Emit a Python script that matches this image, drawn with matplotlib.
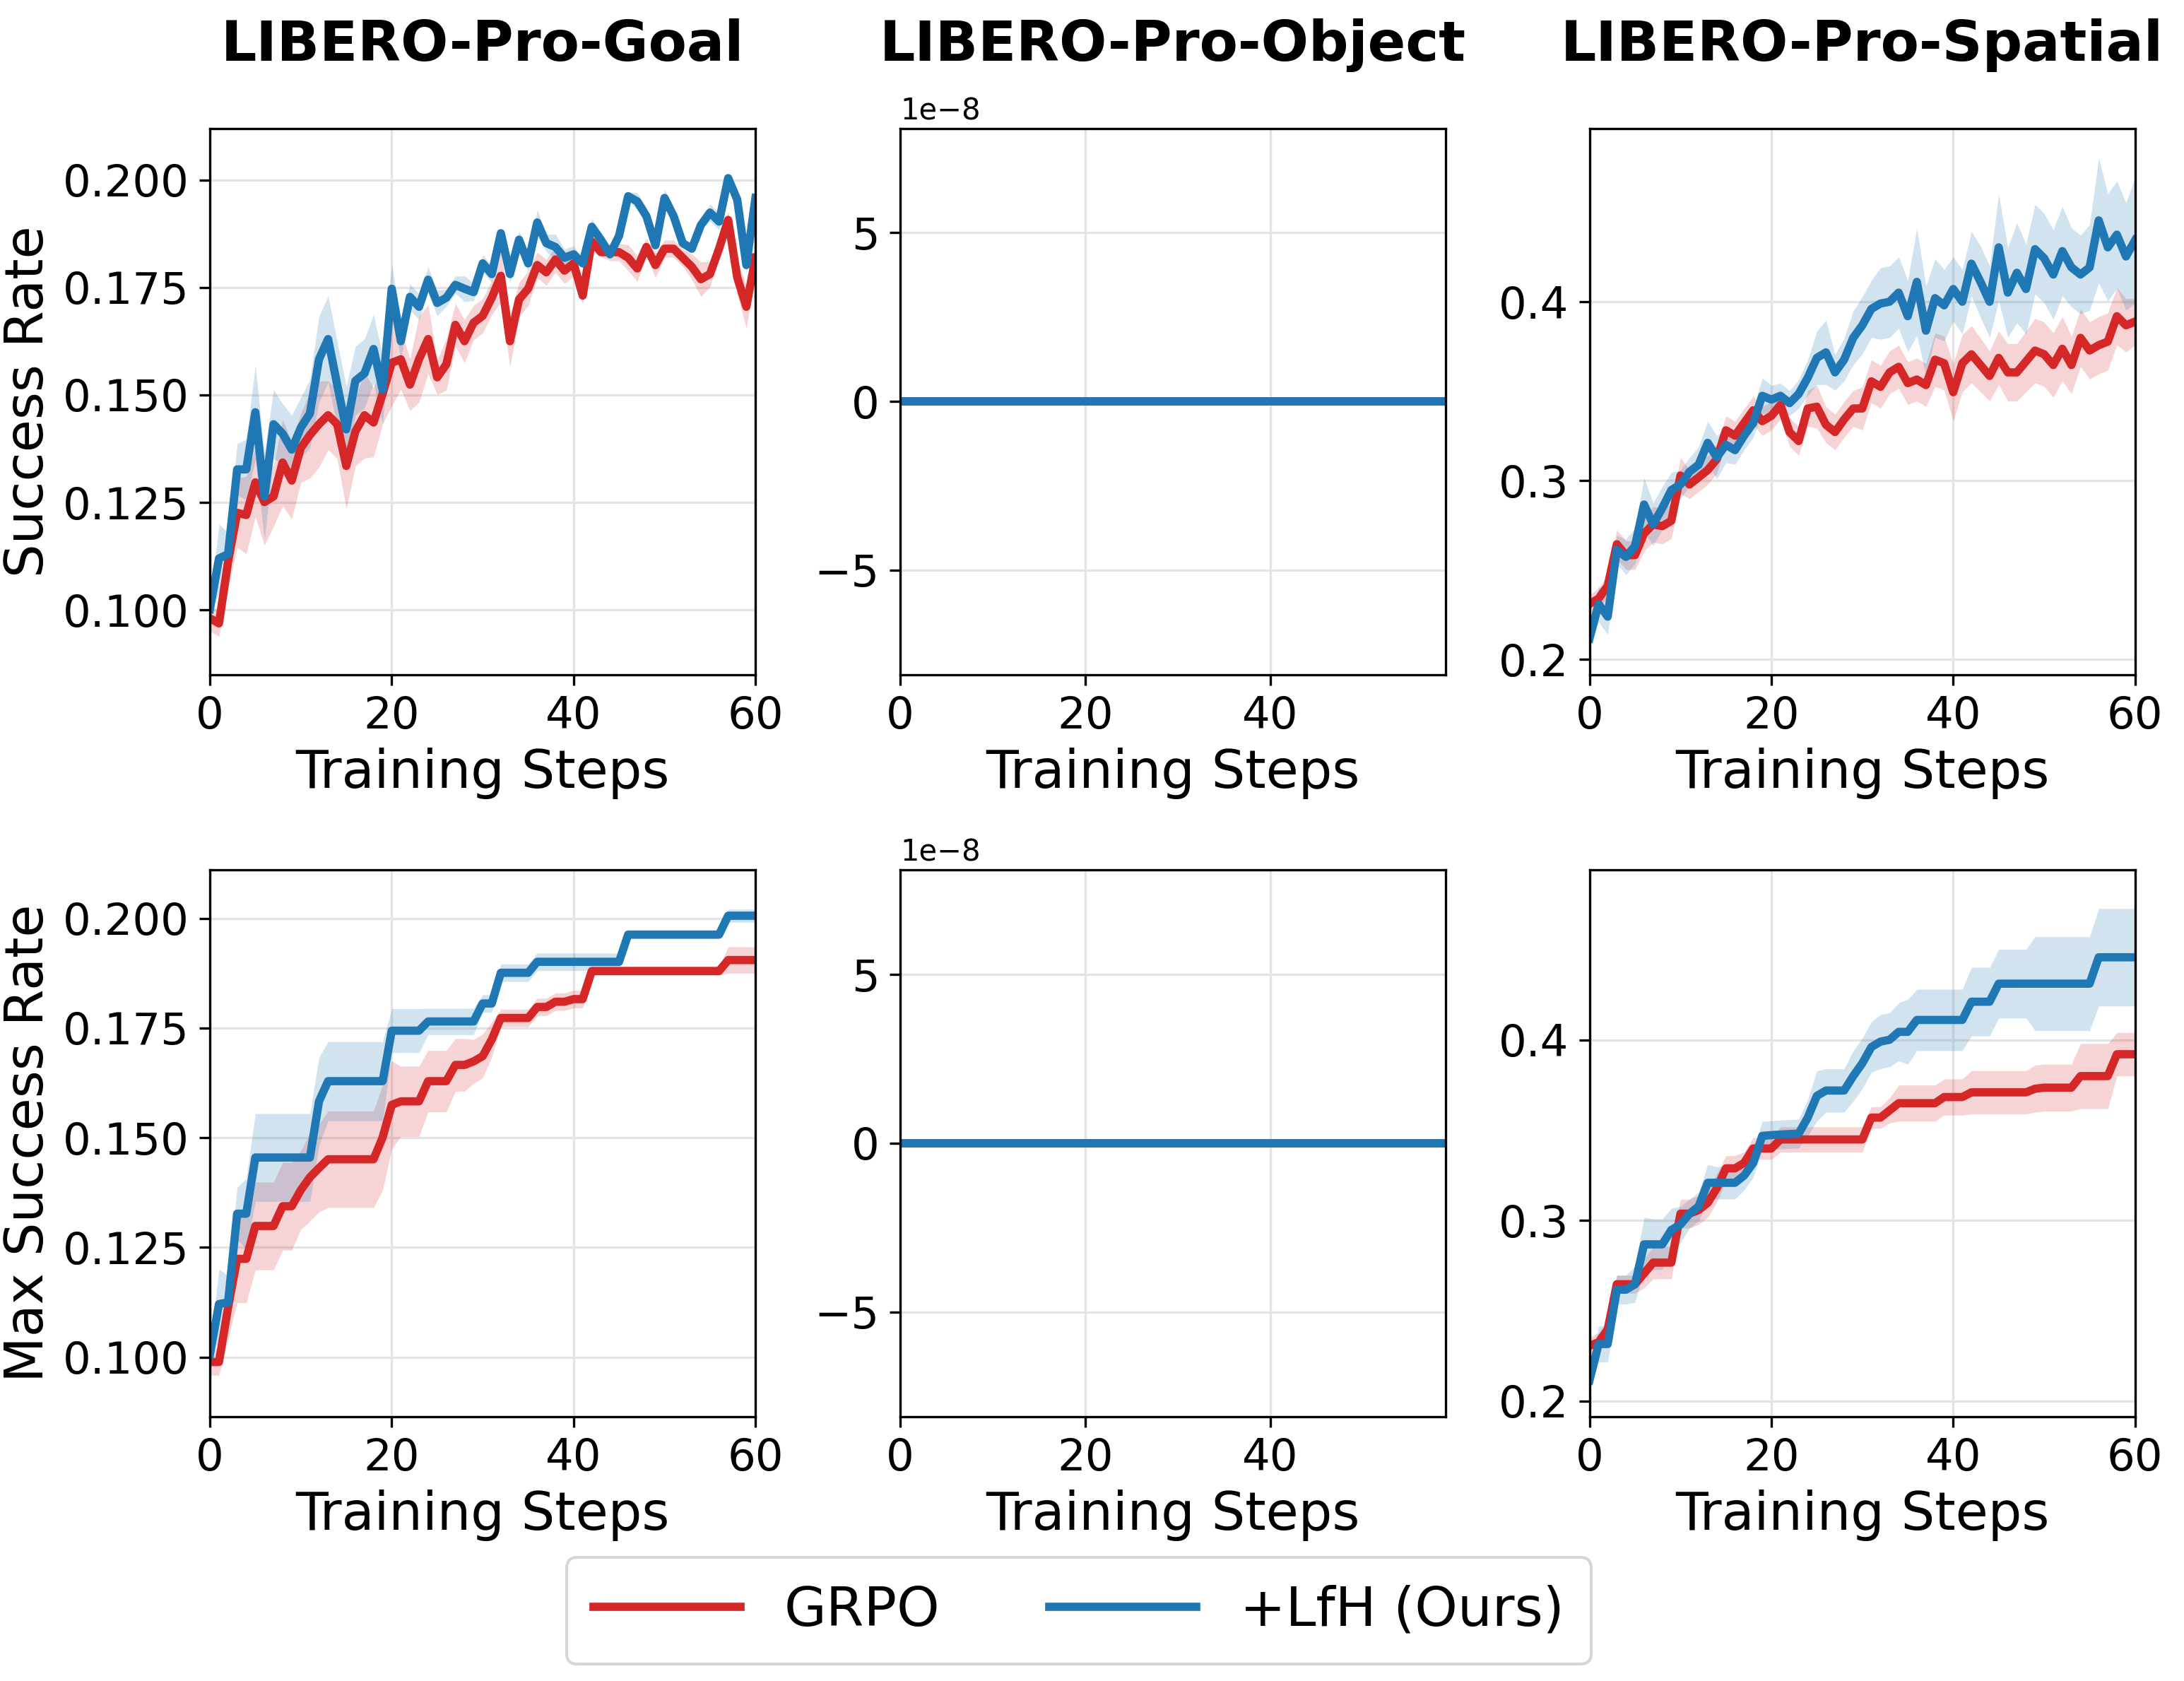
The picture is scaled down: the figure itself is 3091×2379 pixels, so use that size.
import numpy as np
import matplotlib
matplotlib.use("Agg")
import matplotlib.pyplot as plt
from matplotlib.lines import Line2D

# training steps
steps = np.arange(61)
obj_steps = np.arange(60)

# ---- LIBERO-Pro-Goal, success rate ----
goal_grpo = [0.0981, 0.0969, 0.1112, 0.1226, 0.1221, 0.1297, 0.1251, 0.1264, 0.1343, 0.1301,
             0.1377, 0.1407, 0.1432, 0.1453, 0.1432, 0.1335, 0.1415, 0.1453, 0.1436, 0.1503,
             0.1575, 0.1583, 0.1524, 0.1583, 0.1630, 0.1541, 0.1571, 0.1663, 0.1625, 0.1668,
             0.1684, 0.1726, 0.1777, 0.1625, 0.1722, 0.1747, 0.1802, 0.1785, 0.1815, 0.1789,
             0.1806, 0.1731, 0.1857, 0.1832, 0.1832, 0.1832, 0.1819, 0.1794, 0.1844, 0.1802,
             0.1840, 0.1840, 0.1819, 0.1798, 0.1769, 0.1781, 0.1840, 0.1907, 0.1773, 0.1705,
             0.1819]
goal_grpo_sd = [0.003, 0.003, 0.006, 0.008, 0.009, 0.008, 0.010, 0.007, 0.010, 0.009,
                0.008, 0.010, 0.010, 0.008, 0.008, 0.010, 0.008, 0.010, 0.008, 0.007,
                0.010, 0.007, 0.006, 0.010, 0.008, 0.004, 0.006, 0.005, 0.005, 0.004,
                0.004, 0.004, 0.006, 0.006, 0.004, 0.004, 0.003, 0.003, 0.003, 0.003,
                0.003, 0.002, 0.001, 0.001, 0.002, 0.002, 0.003, 0.003, 0.002, 0.003,
                0.002, 0.002, 0.002, 0.003, 0.004, 0.003, 0.002, 0.002, 0.004, 0.005,
                0.003]
goal_ours = [0.1002, 0.1120, 0.1130, 0.1327, 0.1327, 0.1460, 0.1264, 0.1432, 0.1410, 0.1373,
             0.1424, 0.1457, 0.1583, 0.1630, 0.1524, 0.1420, 0.1533, 0.1550, 0.1607, 0.1512,
             0.1747, 0.1625, 0.1728, 0.1705, 0.1768, 0.1714, 0.1726, 0.1756, 0.1747, 0.1739,
             0.1806, 0.1781, 0.1876, 0.1781, 0.1861, 0.1806, 0.1901, 0.1853, 0.1844, 0.1819,
             0.1827, 0.1806, 0.1891, 0.1861, 0.1827, 0.1870, 0.1962, 0.1950, 0.1916, 0.1848,
             0.1958, 0.1916, 0.1853, 0.1840, 0.1895, 0.1924, 0.1903, 0.2004, 0.1954, 0.1802,
             0.1958]
goal_ours_sd = [0.001, 0.008, 0.005, 0.006, 0.007, 0.011, 0.010, 0.008, 0.007, 0.008,
                0.007, 0.008, 0.010, 0.010, 0.010, 0.010, 0.008, 0.008, 0.008, 0.008,
                0.006, 0.004, 0.003, 0.003, 0.003, 0.003, 0.002, 0.002, 0.003, 0.002,
                0.002, 0.002, 0.001, 0.002, 0.002, 0.002, 0.003, 0.002, 0.003, 0.002,
                0.002, 0.001, 0.002, 0.001, 0.001, 0.001, 0.001, 0.002, 0.002, 0.001,
                0.002, 0.002, 0.001, 0.001, 0.001, 0.002, 0.002, 0.001, 0.001, 0.002,
                0.001]

# ---- LIBERO-Pro-Goal, max success rate ----
goal_max_grpo = [0.0989, 0.0989, 0.1113, 0.1224, 0.1224, 0.1299, 0.1299, 0.1299, 0.1344, 0.1344,
                 0.1381, 0.1410, 0.1431, 0.1451, 0.1451, 0.1451, 0.1451, 0.1451, 0.1451, 0.1501,
                 0.1575, 0.1583, 0.1583, 0.1583, 0.1629, 0.1629, 0.1629, 0.1666, 0.1666, 0.1674,
                 0.1686, 0.1724, 0.1773, 0.1773, 0.1773, 0.1773, 0.1798, 0.1798, 0.1810, 0.1810,
                 0.1816, 0.1816, 0.1880, 0.1880, 0.1880, 0.1880, 0.1880, 0.1880, 0.1880, 0.1880,
                 0.1880, 0.1880, 0.1880, 0.1880, 0.1880, 0.1880, 0.1880, 0.1905, 0.1905, 0.1905,
                 0.1905]
goal_max_grpo_sd = [0.003, 0.003, 0.007, 0.010, 0.010, 0.010, 0.010, 0.010, 0.010, 0.010,
                    0.009, 0.010, 0.010, 0.011, 0.011, 0.011, 0.011, 0.011, 0.011, 0.012,
                    0.010, 0.008, 0.008, 0.008, 0.007, 0.007, 0.007, 0.006, 0.006, 0.005,
                    0.005, 0.004, 0.002, 0.002, 0.002, 0.002, 0.002, 0.002, 0.002, 0.002,
                    0.002, 0.002, 0.001, 0.001, 0.001, 0.001, 0.001, 0.001, 0.001, 0.001,
                    0.001, 0.001, 0.001, 0.001, 0.001, 0.001, 0.001, 0.003, 0.003, 0.003,
                    0.003]
goal_max_ours = [0.1006, 0.1121, 0.1125, 0.1327, 0.1327, 0.1455, 0.1455, 0.1455, 0.1455, 0.1455,
                 0.1455, 0.1455, 0.1583, 0.1629, 0.1629, 0.1629, 0.1629, 0.1629, 0.1629, 0.1629,
                 0.1744, 0.1744, 0.1744, 0.1744, 0.1765, 0.1765, 0.1765, 0.1765, 0.1765, 0.1765,
                 0.1806, 0.1806, 0.1876, 0.1876, 0.1876, 0.1876, 0.1901, 0.1901, 0.1901, 0.1901,
                 0.1901, 0.1901, 0.1901, 0.1901, 0.1901, 0.1901, 0.1963, 0.1963, 0.1963, 0.1963,
                 0.1963, 0.1963, 0.1963, 0.1963, 0.1963, 0.1963, 0.1963, 0.2006, 0.2006, 0.2006,
                 0.2006]
goal_max_ours_sd = [0.001, 0.008, 0.006, 0.006, 0.008, 0.010, 0.010, 0.010, 0.010, 0.010,
                    0.010, 0.010, 0.010, 0.009, 0.009, 0.009, 0.009, 0.009, 0.009, 0.009,
                    0.005, 0.005, 0.005, 0.005, 0.003, 0.003, 0.003, 0.003, 0.003, 0.003,
                    0.002, 0.002, 0.002, 0.002, 0.002, 0.002, 0.002, 0.002, 0.002, 0.002,
                    0.002, 0.002, 0.002, 0.002, 0.002, 0.002, 0.001, 0.001, 0.001, 0.001,
                    0.001, 0.001, 0.001, 0.001, 0.001, 0.001, 0.001, 0.0015, 0.0015, 0.0015,
                    0.0015]

# ---- LIBERO-Pro-Object: every run stays at 0 ----
obj_grpo = np.zeros(60)
obj_ours = np.zeros(60)

# ---- LIBERO-Pro-Spatial, success rate ----
spat_grpo = [0.2310, 0.2340, 0.2411, 0.2644, 0.2583, 0.2583, 0.2704, 0.2755, 0.2745, 0.2775,
             0.3028, 0.2978, 0.3018, 0.3059, 0.3120, 0.3281, 0.3251, 0.3322, 0.3393, 0.3332,
             0.3362, 0.3423, 0.3271, 0.3221, 0.3403, 0.3413, 0.3312, 0.3271, 0.3342, 0.3403,
             0.3403, 0.3555, 0.3524, 0.3605, 0.3636, 0.3545, 0.3565, 0.3534, 0.3676, 0.3656,
             0.3494, 0.3656, 0.3706, 0.3646, 0.3585, 0.3686, 0.3605, 0.3605, 0.3666, 0.3727,
             0.3706, 0.3646, 0.3737, 0.3646, 0.3798, 0.3727, 0.3757, 0.3777, 0.3919, 0.3868,
             0.3889]
spat_grpo_sd = [0.005, 0.006, 0.006, 0.008, 0.008, 0.008, 0.010, 0.010, 0.010, 0.010,
                0.010, 0.008, 0.008, 0.008, 0.008, 0.008, 0.008, 0.008, 0.008, 0.008,
                0.008, 0.008, 0.008, 0.008, 0.010, 0.012, 0.010, 0.010, 0.010, 0.010,
                0.012, 0.012, 0.012, 0.012, 0.012, 0.012, 0.012, 0.012, 0.015, 0.015,
                0.016, 0.016, 0.016, 0.015, 0.014, 0.015, 0.016, 0.016, 0.017, 0.018,
                0.018, 0.018, 0.018, 0.016, 0.016, 0.016, 0.016, 0.016, 0.016, 0.015,
                0.013]
spat_ours = [0.2117, 0.2310, 0.2239, 0.2613, 0.2573, 0.2634, 0.2866, 0.2755, 0.2846, 0.2947,
             0.2978, 0.3049, 0.3089, 0.3211, 0.3130, 0.3200, 0.3170, 0.3251, 0.3322, 0.3474,
             0.3453, 0.3474, 0.3433, 0.3484, 0.3575, 0.3686, 0.3717, 0.3605, 0.3676, 0.3798,
             0.3868, 0.3960, 0.3990, 0.4000, 0.4051, 0.3919, 0.4111, 0.3838, 0.4020, 0.3980,
             0.4071, 0.4000, 0.4213, 0.4111, 0.4000, 0.4304, 0.4051, 0.4162, 0.4071, 0.4294,
             0.4243, 0.4152, 0.4283, 0.4192, 0.4152, 0.4192, 0.4455, 0.4304, 0.4375, 0.4253,
             0.4344]
spat_ours_sd = [0.005, 0.010, 0.010, 0.008, 0.010, 0.010, 0.015, 0.012, 0.012, 0.010,
                0.008, 0.008, 0.010, 0.012, 0.012, 0.010, 0.008, 0.008, 0.008, 0.010,
                0.008, 0.007, 0.007, 0.008, 0.010, 0.015, 0.018, 0.010, 0.012, 0.015,
                0.016, 0.016, 0.020, 0.020, 0.020, 0.020, 0.030, 0.025, 0.022, 0.020,
                0.018, 0.018, 0.018, 0.020, 0.020, 0.030, 0.025, 0.028, 0.025, 0.025,
                0.025, 0.025, 0.025, 0.022, 0.022, 0.024, 0.035, 0.030, 0.030, 0.030,
                0.035]

# ---- LIBERO-Pro-Spatial, max success rate ----
spat_max_grpo = [0.2305, 0.2325, 0.2395, 0.2646, 0.2646, 0.2646, 0.2706, 0.2766, 0.2766, 0.2766,
                 0.3037, 0.3037, 0.3057, 0.3097, 0.3178, 0.3288, 0.3288, 0.3318, 0.3398, 0.3398,
                 0.3398, 0.3448, 0.3448, 0.3448, 0.3448, 0.3448, 0.3448, 0.3448, 0.3448, 0.3448,
                 0.3448, 0.3569, 0.3569, 0.3609, 0.3649, 0.3649, 0.3649, 0.3649, 0.3649, 0.3683,
                 0.3683, 0.3683, 0.3709, 0.3709, 0.3709, 0.3709, 0.3709, 0.3709, 0.3709, 0.3729,
                 0.3735, 0.3735, 0.3735, 0.3735, 0.3799, 0.3799, 0.3799, 0.3799, 0.3920, 0.3920,
                 0.3920]
spat_max_grpo_sd = [0.005, 0.005, 0.006, 0.005, 0.005, 0.005, 0.008, 0.009, 0.009, 0.009,
                    0.008, 0.008, 0.008, 0.008, 0.008, 0.007, 0.007, 0.006, 0.006, 0.006,
                    0.006, 0.007, 0.007, 0.007, 0.007, 0.007, 0.007, 0.007, 0.007, 0.007,
                    0.007, 0.006, 0.006, 0.007, 0.010, 0.010, 0.010, 0.010, 0.010, 0.010,
                    0.010, 0.010, 0.012, 0.012, 0.012, 0.012, 0.012, 0.012, 0.012, 0.013,
                    0.013, 0.013, 0.013, 0.013, 0.018, 0.018, 0.018, 0.018, 0.012, 0.012,
                    0.012]
spat_max_ours = [0.2114, 0.2315, 0.2315, 0.2616, 0.2616, 0.2646, 0.2867, 0.2867, 0.2867, 0.2947,
                 0.2977, 0.3037, 0.3077, 0.3208, 0.3208, 0.3208, 0.3208, 0.3248, 0.3318, 0.3468,
                 0.3472, 0.3475, 0.3478, 0.3480, 0.3569, 0.3689, 0.3719, 0.3719, 0.3719, 0.3799,
                 0.3870, 0.3960, 0.3990, 0.4000, 0.4044, 0.4044, 0.4110, 0.4110, 0.4110, 0.4110,
                 0.4110, 0.4110, 0.4211, 0.4211, 0.4211, 0.4311, 0.4311, 0.4311, 0.4311, 0.4311,
                 0.4311, 0.4311, 0.4311, 0.4311, 0.4311, 0.4311, 0.4457, 0.4457, 0.4457, 0.4457,
                 0.4457]
spat_max_ours_sd = [0.005, 0.010, 0.010, 0.008, 0.008, 0.010, 0.015, 0.014, 0.014, 0.012,
                    0.010, 0.008, 0.008, 0.010, 0.009, 0.009, 0.009, 0.008, 0.008, 0.008,
                    0.008, 0.008, 0.008, 0.008, 0.010, 0.014, 0.012, 0.012, 0.012, 0.014,
                    0.014, 0.014, 0.015, 0.015, 0.016, 0.018, 0.017, 0.017, 0.017, 0.017,
                    0.017, 0.017, 0.019, 0.019, 0.019, 0.019, 0.019, 0.019, 0.019, 0.026,
                    0.026, 0.026, 0.026, 0.026, 0.026, 0.026, 0.027, 0.027, 0.027, 0.027,
                    0.027]

titles = ["LIBERO-Pro-Goal", "LIBERO-Pro-Object", "LIBERO-Pro-Spatial"]
row_labels = ["Success Rate", "Max Success Rate"]

red = "#d62728"
blue = "#1f77b4"
lw = 2.8


def draw_panel(ax, x, grpo, grpo_sd, ours, ours_sd):
    grpo = np.asarray(grpo); ours = np.asarray(ours)
    if grpo_sd is not None:
        grpo_sd = np.asarray(grpo_sd)
        ax.fill_between(x, grpo - grpo_sd, grpo + grpo_sd, color=red, alpha=0.2, lw=0)
    ax.plot(x, grpo, color=red, lw=lw)
    if ours_sd is not None:
        ours_sd = np.asarray(ours_sd)
        ax.fill_between(x, ours - ours_sd, ours + ours_sd, color=blue, alpha=0.2, lw=0)
    ax.plot(x, ours, color=blue, lw=lw)


fig = plt.figure(figsize=(3091 / 300, 2379 / 300), dpi=300)
col_x = [0.0961, 0.4122, 0.7278]
row_y = [0.5987, 0.1574]
w, h = 0.2498, 0.325

panels = [
    [(steps, goal_grpo, goal_grpo_sd, goal_ours, goal_ours_sd, (0.085, 0.212)),
     (obj_steps, obj_grpo, None, obj_ours, None, (-8.1e-8, 8.1e-8)),
     (steps, spat_grpo, spat_grpo_sd, spat_ours, spat_ours_sd, (0.1915, 0.497))],
    [(steps, goal_max_grpo, goal_max_grpo_sd, goal_max_ours, goal_max_ours_sd, (0.0865, 0.211)),
     (obj_steps, obj_grpo, None, obj_ours, None, (-8.1e-8, 8.1e-8)),
     (steps, spat_max_grpo, spat_max_grpo_sd, spat_max_ours, spat_max_ours_sd, (0.1914, 0.494))],
]

for r in range(2):
    for c in range(3):
        ax = fig.add_axes([col_x[c], row_y[r], w, h])
        x, g, gsd, o, osd, ylim = panels[r][c]
        draw_panel(ax, x, g, gsd, o, osd)
        ax.set_xlim(x[0], x[-1])
        ax.set_ylim(*ylim)
        if c == 1:
            ax.set_xticks([0, 20, 40])
            ax.set_yticks([-5e-8, 0, 5e-8])
        else:
            ax.set_xticks([0, 20, 40, 60])
        if c == 0:
            ax.set_yticks([0.100, 0.125, 0.150, 0.175, 0.200])
        if c == 2:
            ax.set_yticks([0.2, 0.3, 0.4])
        ax.grid(True, color="#e4e4e4", lw=0.8)
        ax.set_axisbelow(True)
        ax.tick_params(labelsize=15)
        ax.set_xlabel("Training Steps", fontsize=18, labelpad=3.5)
        if c == 0:
            ax.set_ylabel(row_labels[r], fontsize=18, labelpad=3)
        if r == 0:
            ax.set_title(titles[c], fontsize=19, fontweight="bold", pad=23)

handles = [Line2D([], [], color=red, lw=lw), Line2D([], [], color=blue, lw=lw)]
fig.legend(handles, ["GRPO", "+LfH (Ours)"], loc="center", bbox_to_anchor=(0.494, 0.0417),
           ncol=2, fontsize=18.5, handlelength=2.7, columnspacing=2.0, handletextpad=0.8,
           borderpad=0.5)

fig.savefig("out.png", dpi=300)
